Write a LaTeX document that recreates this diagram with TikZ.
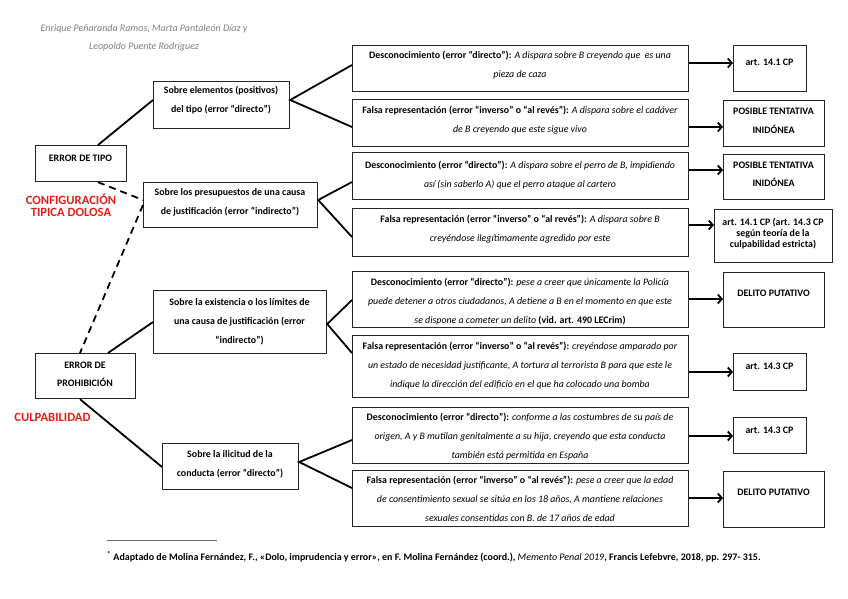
\documentclass[tikz,border=0pt]{standalone}
\usepackage{fontspec}
\setmainfont{Carlito}
\usetikzlibrary{arrows.meta}
\definecolor{hdrgray}{gray}{0.5}
\definecolor{redlab}{RGB}{232,30,20}
\tikzset{
  box/.style={draw=black!85, line width=1.2pt, inner sep=0pt, anchor=north west},
  txt/.style={font=\fontsize{9.9}{19}\selectfont\bfseries, align=center, inner sep=0pt, anchor=base},
  rtxt/.style={font=\fontsize{12.6}{12}\selectfont\bfseries, text=redlab, align=center, inner sep=0pt, anchor=base},
  con/.style={line width=1.8pt},
  dsh/.style={con, dash pattern=on 7pt off 5pt},
  arr/.style={con, -{Straight Barb[length=4pt,width=9pt]}},
}
\begin{document}
\begin{tikzpicture}[x=1pt,y=-1pt]
\useasboundingbox[fill=white] (0,0) rectangle (848,599);
% header
\node[font=\fontsize{10}{18}\selectfont\itshape, text=hdrgray, align=center, inner sep=0pt, anchor=base] (hdr) at (144,50) {Enrique Peñaranda Ramos, Marta Pantaleón Díaz y\\Leopoldo Puente Rodríguez};
% left column
\node[box, minimum width=91pt, minimum height=36pt] (L1) at (35,145) {};
\node[txt] (L1t) at (80.5,161) {ERROR DE TIPO};
\node[box, minimum width=100pt, minimum height=45pt] (L2) at (35,353) {};
\node[txt, font=\fontsize{9.9}{18}\selectfont\bfseries] (L2t) at (85,386) {ERROR DE\\PROHIBICIÓN};
\node[rtxt] (red1) at (71,216) {CONFIGURACIÓN\\TIPICA DOLOSA};
\node[rtxt] (red2) at (52.5,421) {CULPABILIDAD};
% middle column
\node[box, minimum width=136pt, minimum height=47pt] (M1) at (153,81) {};
\node[txt] (M1t) at (221,113) {Sobre elementos (positivos)\\del tipo (error “directo”)};
\node[box, minimum width=174pt, minimum height=45pt] (M2) at (143,182) {};
\node[txt] (M2t) at (230,214) {Sobre los presupuestos de una causa\\de justificación (error “indirecto”)};
\node[box, minimum width=173pt, minimum height=63pt] (M3) at (153,290) {};
\node[txt] (M3t) at (239.5,343) {Sobre la existencia o los límites de\\una causa de justificación (error\\“indirecto”)};
\node[box, minimum width=136pt, minimum height=46pt] (M4) at (162,443) {};
\node[txt] (M4t) at (230,476) {Sobre la ilicitud de la\\conducta (error “directo”)};
% examples
\node[box, minimum width=336pt, minimum height=46pt] (R1) at (352,45) {};
\node[txt] (R1t) at (520,78) {Desconocimiento (error “directo”): \textit{\mdseries A dispara sobre B creyendo que\ \ es una}\\\textit{\mdseries pieza de caza}};
\node[box, minimum width=336pt, minimum height=47pt] (R2) at (352,99) {};
\node[txt] (R2t) at (520,132) {Falsa representación (error “inverso” o “al revés”): \textit{\mdseries A dispara sobre el cadáver}\\\textit{\mdseries de B creyendo que este sigue vivo}};
\node[box, minimum width=336pt, minimum height=47pt] (R3) at (352,152) {};
\node[txt] (R3t) at (520,187) {Desconocimiento (error “directo”): \textit{\mdseries A dispara sobre el perro de B, impidiendo}\\\textit{\mdseries así (sin saberlo A) que el perro ataque al cartero}};
\node[box, minimum width=336pt, minimum height=48pt] (R4) at (352,208) {};
\node[txt] (R4t) at (520,241) {Falsa representación (error “inverso” o “al revés”): \textit{\mdseries A dispara sobre B}\\\textit{\mdseries creyéndose ilegítimamente agredido por este}};
\node[box, minimum width=336pt, minimum height=56pt] (R5) at (352,271) {};
\node[txt, font=\fontsize{9.9}{18.6}\selectfont\bfseries] (R5t) at (520,323) {Desconocimiento (error “directo”): \textit{\mdseries pese a creer que únicamente la Policía}\\\textit{\mdseries puede detener a otros ciudadanos, A detiene a B en el momento en que este}\\\textit{\mdseries se dispone a cometer un delito} (vid. art. 490 LECrim)};
\node[box, minimum width=336pt, minimum height=62pt] (R6) at (352,335) {};
\node[txt] (R6t) at (520,387) {Falsa representación (error “inverso” o “al revés”): \textit{\mdseries creyéndose amparado por}\\\textit{\mdseries un estado de necesidad justificante, A tortura al terrorista B para que este le}\\\textit{\mdseries indique la dirección del edificio en el que ha colocado una bomba}};
\node[box, minimum width=336pt, minimum height=56pt] (R7) at (352,407) {};
\node[txt] (R7t) at (520,458) {Desconocimiento (error “directo”): \textit{\mdseries conforme a las costumbres de su país de}\\\textit{\mdseries origen, A y B mutilan genitalmente a su hija, creyendo que esta conducta}\\\textit{\mdseries también está permitida en España}};
\node[box, minimum width=336pt, minimum height=56pt] (R8) at (352,470) {};
\node[txt] (R8t) at (520,521) {Falsa representación (error “inverso” o “al revés”): \textit{\mdseries pese a creer que la edad}\\\textit{\mdseries de consentimiento sexual se sitúa en los 18 años, A mantiene relaciones}\\\textit{\mdseries sexuales consentidas con B. de 17 años de edad}};
% results
\node[box, minimum width=73pt, minimum height=46pt] (T1) at (733,45) {};
\node[txt] (T1t) at (769.5,66) {art. 14.1 CP};
\node[box, minimum width=101pt, minimum height=46pt] (T2) at (723,100) {};
\node[txt, font=\fontsize{9.9}{18}\selectfont\bfseries] (T2t) at (773.5,133) {POSIBLE TENTATIVA\\INIDÓNEA};
\node[box, minimum width=101pt, minimum height=45pt] (T3) at (723,154) {};
\node[txt, font=\fontsize{9.9}{18}\selectfont\bfseries] (T3t) at (773.5,186) {POSIBLE TENTATIVA\\INIDÓNEA};
\node[box, minimum width=118pt, minimum height=53pt] (T4) at (714,209) {};
\node[txt, font=\fontsize{9.9}{10.7}\selectfont\bfseries] (T4t) at (773,247) {art. 14.1 CP (art. 14.3 CP\\según teoría de la\\culpabilidad estricta)};
\node[box, minimum width=101pt, minimum height=55pt] (T5) at (723,272) {};
\node[txt] (T5t) at (773.5,296) {DELITO PUTATIVO};
\node[box, minimum width=73pt, minimum height=37pt] (T6) at (733,353) {};
\node[txt] (T6t) at (769.5,369) {art. 14.3 CP};
\node[box, minimum width=73pt, minimum height=36pt] (T7) at (733,417) {};
\node[txt] (T7t) at (769.5,433) {art. 14.3 CP};
\node[box, minimum width=101pt, minimum height=56pt] (T8) at (723,471) {};
\node[txt] (T8t) at (773.5,495) {DELITO PUTATIVO};
% connectors left
\draw[con] (L1.north -| 98,0) -- (M1.west |- 0,100);
\draw[dsh] (L1.south -| 98,0) -- (M2.west |- 0,200);
\draw[dsh] (M2.west |- 0,205) -- (L2.north -| 80,0);
\draw[con] (L2.north -| 108,0) -- (M3.west |- 0,322);
\draw[con] (L2.south -| 80,0) -- (M4.west |- 0,467);
% branches
\draw[con] (R1.west |- 0,65) -- (M1.east |- 0,100) -- (R2.west |- 0,127);
\draw[con] (R3.west |- 0,182) -- (M2.east |- 0,200) -- (R4.west |- 0,237);
\draw[con] (R5.west |- 0,300) -- (M3.east |- 0,324) -- (R6.west |- 0,353);
\draw[con] (R7.west |- 0,440) -- (M4.east |- 0,462) -- (R8.west |- 0,488);
% arrows
\draw[arr] (R1.east |- 0,63) -- (T1.west |- 0,63);
\draw[arr] (R2.east |- 0,127) -- (T2.west |- 0,127);
\draw[arr] (R3.east |- 0,170) -- (T3.west |- 0,170);
\draw[arr] (R4.east |- 0,225) -- (T4.west |- 0,225);
\draw[arr] (R5.east |- 0,299) -- (T5.west |- 0,299);
\draw[arr] (R6.east |- 0,372) -- (T6.west |- 0,372);
\draw[arr] (R7.east |- 0,436) -- (T7.west |- 0,436);
\draw[arr] (R8.east |- 0,498) -- (T8.west |- 0,498);
% footnote
\draw[line width=0.6pt, black!60] (107,540) -- (217,540);
\node[font=\fontsize{10}{12}\selectfont\bfseries, inner sep=0pt, anchor=base west] (fn) at (107,560) {\textsuperscript{*} Adaptado de Molina Fernández, F., «Dolo, imprudencia y error», en F. Molina Fernández (coord.), \textit{\mdseries Memento Penal 2019}, Francis Lefebvre, 2018, pp. 297- 315.};
\end{tikzpicture}
\end{document}
